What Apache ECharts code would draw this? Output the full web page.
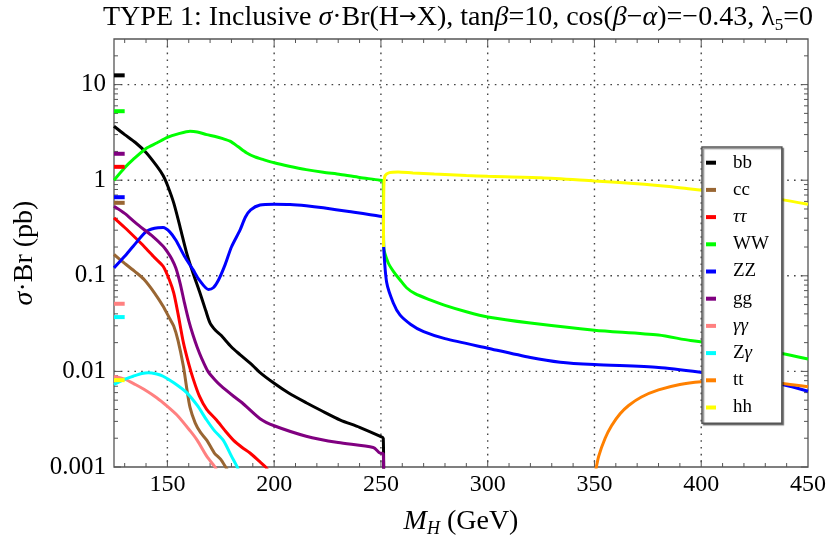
<!DOCTYPE html>
<html>
<head>
<meta charset="utf-8">
<script src="https://cdn.jsdelivr.net/npm/echarts@6/dist/echarts.min.js"></script>
<style>
html,body{margin:0;padding:0;background:#fff;}
#c{width:831px;height:536px;}
</style>
</head>
<body>
<div id="c"></div>
<script>
// ---- data (M_H in GeV, sigma*Br in pb) ----
const names = ['bb','cc','ττ','WW','ZZ','gg','γγ','Zγ','tt','hh'];
const colors = ['#000000','#996633','#ff0000','#00ff00','#0000ff','#800080','#ff8080','#00ffff','#ff8000','#ffff00'];

const bb = [[125,3.67],[130,3.0],[135,2.48],[140,1.95],[145,1.41],[148,1.12],[150,0.89],[153,0.575],[156,0.32],[159,0.174],[162,0.107],[165,0.069],[168,0.043],[170,0.032],[172.5,0.027],[175,0.024],[180,0.018],[184,0.015],[190,0.0115],[193.4,0.0097],[200,0.0075],[207,0.0059],[215,0.0047],[222,0.0039],[231,0.0031],[240,0.0026],[249.5,0.0021],[251.1,0.002],[251.3,0.0007]];
const cc = [[125,0.167],[130,0.135],[135,0.11],[139,0.092],[144,0.066],[148,0.048],[151,0.036],[153,0.0297],[155,0.021],[157.5,0.0113],[159,0.0068],[160.6,0.0042],[163,0.0029],[165.5,0.0023],[168.5,0.0019],[172,0.0014],[175,0.0012],[177.5,0.00098],[178.5,0.0009]];
const tautau = [[125,0.404],[130,0.32],[135,0.25],[139,0.204],[144,0.155],[148,0.126],[151,0.09],[153,0.066],[155,0.04],[157.5,0.02],[160,0.012],[162.2,0.0082],[165,0.0055],[168.4,0.004],[173,0.0031],[177,0.0024],[181,0.0019],[185,0.0016],[188.7,0.0014],[193,0.00115],[196,0.001],[197,0.00093]];
const WW = [[125,1.0],[130,1.35],[134,1.65],[140,2.15],[145,2.45],[150,2.8],[155,3.05],[160.6,3.26],[164,3.2],[168.4,3.0],[172,2.88],[176,2.72],[179.3,2.56],[183,2.25],[187,1.94],[191,1.75],[195,1.64],[200,1.52],[207,1.4],[215,1.29],[223,1.21],[231,1.15],[240,1.07],[249.5,1.0],[251.1,0.98],[251.3,0.2],[253.4,0.137],[256,0.11],[258.9,0.091],[262,0.075],[266,0.065],[273,0.056],[280,0.049],[290,0.042],[300,0.037],[320,0.032],[350,0.027],[380,0.024],[395,0.021],[420,0.018],[437,0.0155],[450,0.0135]];
const ZZ = [[125,0.121],[130,0.16],[134,0.204],[140,0.29],[144,0.315],[148,0.32],[151,0.29],[154,0.235],[158,0.16],[162,0.116],[165,0.09],[169.2,0.072],[171.5,0.075],[174,0.091],[177,0.13],[180,0.2],[184,0.3],[186.5,0.41],[189,0.49],[193.4,0.55],[200,0.56],[207.4,0.557],[215,0.54],[223,0.514],[235,0.47],[249.5,0.42],[251.1,0.41],[251.3,0.2],[252.7,0.085],[255.8,0.052],[258.9,0.039],[264,0.031],[270,0.026],[280,0.022],[300,0.0175],[320,0.014],[334,0.0125],[350,0.0118],[380,0.011],[400,0.0098],[420,0.0085],[438,0.0073],[450,0.0062]];
const gg = [[125,0.535],[130,0.45],[135,0.36],[139,0.305],[143,0.26],[148,0.204],[150,0.178],[152,0.151],[154,0.12],[156,0.083],[158,0.052],[160,0.034],[162,0.024],[164,0.0178],[166,0.0138],[169,0.01],[172,0.0083],[175,0.0071],[181,0.0055],[185,0.0047],[193.4,0.0032],[200,0.0027],[215,0.0021],[230,0.0018],[246.4,0.0016],[249.5,0.0014],[251.1,0.00138],[251.3,0.0007]];
const gamgam = [[125,0.0089],[130,0.0083],[135,0.0073],[139,0.0065],[145,0.0053],[150,0.0043],[155,0.0034],[160.6,0.0024],[164,0.0019],[168.4,0.0013],[172.3,0.001],[173,0.00093]];
const Zgam = [[125,0.0073],[130,0.0083],[134,0.0089],[138,0.0095],[141,0.0097],[145,0.0094],[148,0.0089],[153,0.0076],[159,0.006],[164,0.0044],[168.4,0.0031],[172,0.0024],[176.2,0.0019],[180,0.0013],[182.7,0.001],[183.5,0.0009]];
const tt = [[350.5,0.0009],[352,0.0013],[355,0.002],[358,0.0027],[362,0.0036],[366,0.0044],[372,0.0054],[380,0.0064],[390,0.0073],[400,0.0078],[410,0.008],[420,0.008],[430,0.0078],[440,0.0074],[450,0.0069]];
const hh = [[251.2,0.2],[251.4,0.9],[252,1.12],[254,1.2],[258,1.22],[265,1.19],[275,1.16],[290,1.12],[300,1.1],[325,1.06],[350,0.98],[370,0.92],[385,0.86],[395,0.81],[410,0.74],[425,0.68],[437,0.63],[450,0.56]];

// short reference marks at the left edge (M_H = 125)
const markX = [125, 130];
const markVals = {bb:12.5, cc:0.58, 'ττ':1.38, WW:5.27, ZZ:0.664, gg:1.89, 'γγ':0.051, 'Zγ':0.037, hh:0.0081};

// axis ticks
const xMajor = [150,200,250,300,350,400];
const xMinor = [130,140,160,170,180,190,210,220,230,240,260,270,280,290,310,320,330,340,360,370,380,390,410,420,430,440];
const yMajor = [0.001,0.01,0.1,1,10];
const yMinor = [0.002,0.003,0.004,0.005,0.006,0.007,0.008,0.009,0.02,0.03,0.04,0.05,0.06,0.07,0.08,0.09,0.2,0.3,0.4,0.5,0.6,0.7,0.8,0.9,2,3,4,5,6,7,8,9,20];
const yLabels = {'0.001':'0.001','0.01':'0.01','0.1':'0.1','1':'1','10':'10'};

const curves = [bb, cc, tautau, WW, ZZ, gg, gamgam, Zgam, tt, hh];
const FONT = 'Liberation Serif';

const chart = echarts.init(document.getElementById('c'), null, {renderer:'canvas'});

const tickData = [];
xMajor.forEach(v => tickData.push([v, 1, 0]));
xMinor.forEach(v => tickData.push([v, 1, 1]));
yMajor.forEach(v => tickData.push([200, v, 2]));
yMinor.forEach(v => tickData.push([200, v, 3]));

const TC = '#555';
function renderTicks(params, api) {
  const cs = params.coordSys;
  const L = cs.x, R = cs.x + cs.width, T = cs.y, B = cs.y + cs.height;
  const k = api.value(2);
  const ch = [];
  const st = {stroke: TC, lineWidth: 1};
  const dot = {stroke: '#444', lineWidth: 1.4, lineDash: [1.6, 5.2]};
  if (k < 2) {
    const px = api.coord([api.value(0), 1])[0];
    const len = k === 0 ? 7 : 4;
    if (k === 0) ch.push({type:'line', shape:{x1:px,y1:T,x2:px,y2:B}, style:dot});
    ch.push({type:'line', shape:{x1:px,y1:B,x2:px,y2:B-len}, style:st});
    ch.push({type:'line', shape:{x1:px,y1:T,x2:px,y2:T+len}, style:st});
  } else {
    const py = api.coord([200, api.value(1)])[1];
    const len = k === 2 ? 7 : 4;
    if (k === 2 && py > T + 1 && py < B - 1) ch.push({type:'line', shape:{x1:L,y1:py,x2:R,y2:py}, style:dot});
    ch.push({type:'line', shape:{x1:L,y1:py,x2:L+len,y2:py}, style:st});
    ch.push({type:'line', shape:{x1:R,y1:py,x2:R-len,y2:py}, style:st});
  }
  return {type:'group', children: ch};
}

const series = [{
  type:'custom', name:'ticks', data: tickData, renderItem: renderTicks,
  encode:{x:0, y:1}, silent:true, z:1, clip:false
}];
curves.forEach((d, i) => {
  series.push({
    type:'line', name: names[i], data: d, showSymbol:false, symbol:'none',
    smooth:0.25, clip:true, z:3 + i,
    lineStyle:{color: colors[i], width:3}, itemStyle:{color: colors[i]}
  });
});
names.forEach((n, i) => {
  if (markVals[n] === undefined) return;
  series.push({
    type:'line', name: n, data: markX.map(x => [x, markVals[n]]), showSymbol:false, symbol:'none',
    z: 15, lineStyle:{color: colors[i], width:4}, itemStyle:{color: colors[i]}
  });
});

const greek = {'ττ':'{i|ττ}', 'γγ':'{i|γγ}', 'Zγ':'Z{i|γ}'};

chart.setOption({
  animation:false,
  backgroundColor:'#fff',
  title:{
    text:'TYPE 1: Inclusive {i|σ}·Br(H{a|→}X), tan{i|β}=10, cos({i|β}−{i|α})=−0.43, λ{s|5}=0',
    left:103, top:0, z:50, padding:[2,0,0,0],
    textStyle:{fontFamily:FONT, fontSize:28, fontWeight:'normal', color:'#000', lineHeight:32,
      rich:{
        i:{fontFamily:FONT, fontSize:28, fontStyle:'italic', color:'#000', lineHeight:32},
        a:{fontFamily:'DejaVu Sans', fontSize:21, color:'#000', lineHeight:32},
        s:{fontFamily:FONT, fontSize:17, color:'#000', verticalAlign:'bottom', lineHeight:32}
      }}
  },
  grid:{left:114, right:23, top:39, bottom:69, show:true, borderColor:'#555', borderWidth:1.3,
        backgroundColor:'transparent', containLabel:false, outerBoundsMode:'none'},
  legend:{
    data: names, orient:'vertical', left:702, top:147, z:50,
    icon:'rect', itemWidth:10, itemHeight:4, itemGap:7.2,
    padding:[5.7, 13, 5.7, 4],
    backgroundColor:'#fff', borderColor:'#555', borderWidth:1.5,
    shadowColor:'rgba(0,0,0,0.45)', shadowOffsetX:1.5, shadowOffsetY:1.5, shadowBlur:1,
    formatter: n => greek[n] || n,
    textStyle:{fontFamily:FONT, fontSize:19, color:'#000', lineHeight:20, padding:[0,0,0,12],
      rich:{i:{fontFamily:FONT, fontSize:19, fontStyle:'italic', color:'#000', lineHeight:20}}},
    selectedMode:false
  },
  xAxis:{
    type:'value', min:125, max:450, interval:25,
    name:'{i|M}{s|H} (GeV)', nameLocation:'middle', nameGap:39,
    nameTextStyle:{fontFamily:FONT, fontSize:28, color:'#000', lineHeight:32,
      rich:{i:{fontFamily:FONT, fontSize:28, fontStyle:'italic', color:'#000', lineHeight:32},
            s:{fontFamily:FONT, fontSize:18, fontStyle:'italic', color:'#000', verticalAlign:'bottom', lineHeight:32}}},
    axisLine:{show:false}, axisTick:{show:false}, splitLine:{show:false},
    axisLabel:{fontFamily:FONT, fontSize:24, color:'#000', margin:6,
      formatter: v => (v % 50 === 0 && v > 125) ? String(v) : ''}
  },
  yAxis:{
    type:'log', min:0.001, max:30, logBase:10,
    name:'{i|σ}·Br (pb)', nameLocation:'middle', nameGap:68,
    nameTextStyle:{fontFamily:FONT, fontSize:28, color:'#000',
      rich:{i:{fontFamily:FONT, fontSize:28, fontStyle:'italic', color:'#000'}}},
    axisLine:{show:false}, axisTick:{show:false}, splitLine:{show:false},
    axisLabel:{fontFamily:FONT, fontSize:25, color:'#000', margin:8,
      showMaxLabel:false,
      formatter: v => { const key = String(+(+v).toPrecision(6)); return yLabels[key] || ''; }}
  },
  series: series
});
</script>
</body>
</html>
